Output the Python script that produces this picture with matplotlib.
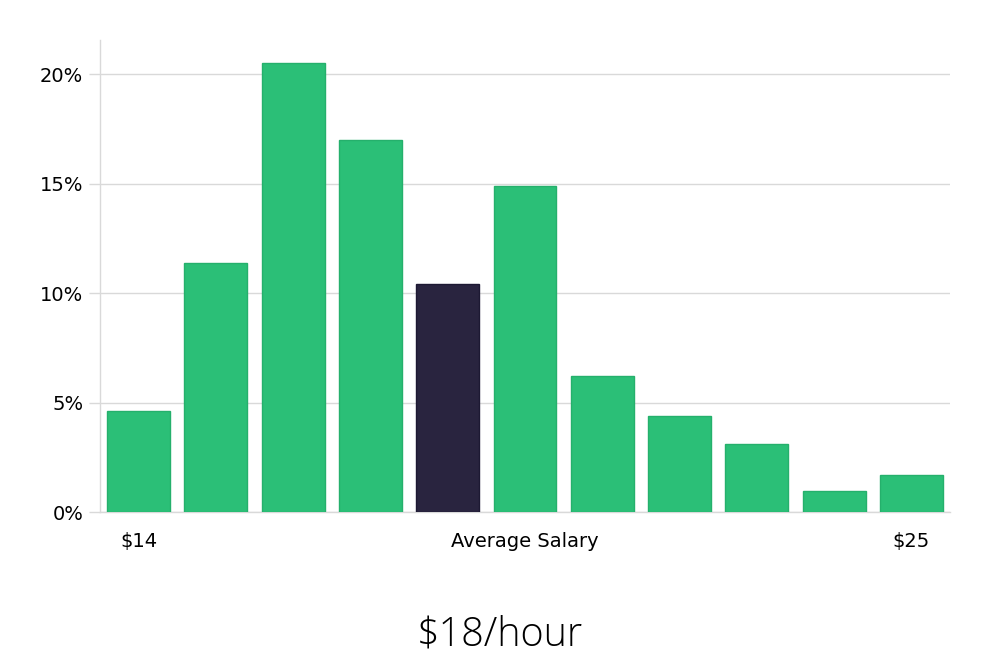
import numpy as np
import matplotlib.pyplot as plt

# Data
values = [4.6, 11.4, 20.5, 17.0, 10.4, 14.9, 6.2, 4.4, 3.1, 0.95, 1.7]
highlight = 4
tick_pos = [0, 5, 10]
tick_labels = ['$14', 'Average Salary', '$25']
y_ticks = [0, 5, 10, 15, 20]
title = '$18/hour'

green, green_edge = '#2bbf77', '#25b06c'
dark, dark_edge = '#29243f', '#1d1933'

fig = plt.figure(figsize=(10, 6.6), dpi=100)
ax = fig.add_axes([0.1, 0.224, 0.85, 0.715])

x = np.arange(len(values))
colors = [dark if i == highlight else green for i in x]
edges = [dark_edge if i == highlight else green_edge for i in x]
ax.bar(x, values, width=0.815, color=colors, edgecolor=edges, linewidth=1, zorder=3)

ax.set_xlim(-0.5, 10.5)
ax.set_ylim(0, 21.55)
ax.set_yticks(y_ticks)
ax.set_yticklabels([f'{v}%' for v in y_ticks], fontsize=14)
ax.set_xticks(tick_pos)
ax.set_xticklabels(tick_labels, fontsize=14)
ax.tick_params(axis='x', length=0, pad=14)
ax.tick_params(axis='y', length=8, color='#d9d9d9', width=1, pad=4)
ax.grid(axis='y', color='#d9d9d9', linewidth=1, zorder=0)

for s in ['top', 'right']:
    ax.spines[s].set_visible(False)
for s in ['left', 'bottom']:
    ax.spines[s].set_color('#d9d9d9')
    ax.spines[s].set_linewidth(1)

fig.text(0.5, 0.038, title, ha='center', va='center', fontsize=28.5,
         family=['Open Sans', 'DejaVu Sans'], fontweight='light')

fig.savefig('out.png', dpi=100)
